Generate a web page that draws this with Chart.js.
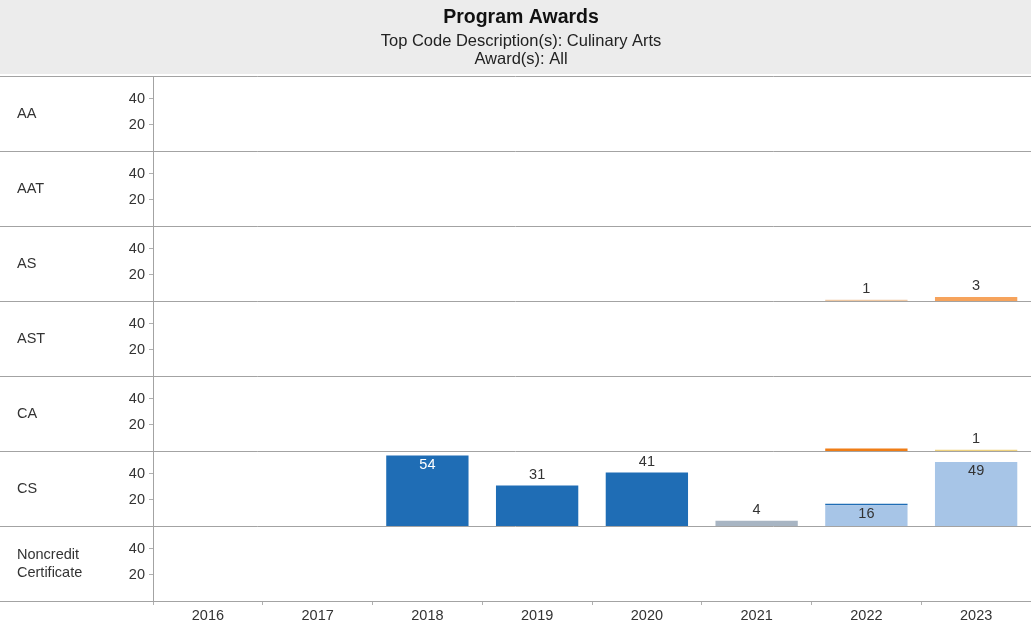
<!DOCTYPE html>
<html>
<head>
<meta charset="utf-8">
<title>Program Awards</title>
<script src="https://cdn.jsdelivr.net/npm/chart.js@4.4.1/dist/chart.umd.min.js"></script>
<style>
  body { margin: 0; background: #fff; }
  canvas { display: block; }
</style>
</head>
<body>
<canvas id="awards" width="1031" height="627"></canvas>
<script>
const years = ['2016', '2017', '2018', '2019', '2020', '2021', '2022', '2023'];
const awardTypes = ['AA', 'AAT', 'AS', 'AST', 'CA', 'CS', 'Noncredit Certificate'];
const tickValues = [20, 40];
const rowMax = 57.5; // value range of one row panel

// award counts per year, one array per colour segment
const asTan     = [null, null, null, null, null, null, 1, null];
const asOrange  = [null, null, null, null, null, null, null, 3];
const caOrange  = [null, null, null, null, null, null, 2, null];
const caYellow  = [null, null, null, null, null, null, null, 1];
const csDark    = [null, null, 54, 31, 41, null, null, null];
const csGrey    = [null, null, null, null, null, 4, null, null];
const csLight   = [null, null, null, null, null, null, 16, 49];
const csDarkTop = [null, null, null, null, null, null, 1, null];

// listed bottom to top inside each row
const segments = [
  { award: 'AS', values: asTan,     color: '#efc8a2', labels: true },
  { award: 'AS', values: asOrange,  color: '#f6a35c', labels: true },
  { award: 'CA', values: caOrange,  color: '#ef7d16', labels: false },
  { award: 'CA', values: caYellow,  color: '#efd27e', labels: true },
  { award: 'CS', values: csDark,    color: '#1f6db5', labels: true, dark: true },
  { award: 'CS', values: csGrey,    color: '#a8b5c3', labels: true },
  { award: 'CS', values: csLight,   color: '#a7c5e7', labels: true },
  { award: 'CS', values: csDarkTop, color: '#1f6db5', labels: false, dark: true },
];

// each row gets its own band of the y scale, AA at the top
const rowFloor = row => (awardTypes.length - 1 - row) * rowMax;

const stackTops = {};
const datasets = segments.map(seg => {
  const row = awardTypes.indexOf(seg.award);
  const data = seg.values.map((v, i) => {
    if (v == null) return null;
    const key = row + '-' + i;
    const lo = stackTops[key] ?? rowFloor(row);
    stackTops[key] = lo + v;
    return [lo, lo + v];
  });
  return {
    data,
    counts: seg.values,
    row,
    dark: !!seg.dark,
    showValues: seg.labels,
    backgroundColor: seg.color,
    barPercentage: 0.75,
    categoryPercentage: 1,
    grouped: false,
  };
});

const FONT = '"Liberation Sans", Arial, sans-serif';
const SMALL = 14.5;
Chart.defaults.font.family = FONT;
Chart.defaults.font.size = SMALL;
Chart.defaults.color = '#333';

// grey header band with the titles
const header = {
  id: 'header',
  beforeDraw(chart) {
    const ctx = chart.ctx;
    ctx.save();
    ctx.fillStyle = '#ececec';
    ctx.fillRect(0, 0, chart.width, 74);
    ctx.textAlign = 'center';
    ctx.textBaseline = 'middle';
    ctx.fillStyle = '#111';
    ctx.font = 'bold 19.5px ' + FONT;
    ctx.fillText('Program Awards', 521, 18);
    ctx.fillStyle = '#222';
    ctx.font = '16.5px ' + FONT;
    ctx.fillText('Top Code Description(s): Culinary Arts', 521, 41);
    ctx.fillText('Award(s): All', 521, 59);
    ctx.restore();
  }
};

// row separators and row names
const rowFrame = {
  id: 'rowFrame',
  beforeDatasetsDraw(chart) {
    const { ctx, chartArea } = chart;
    const rowH = (chartArea.bottom - chartArea.top) / awardTypes.length;
    ctx.save();
    ctx.strokeStyle = '#a3a3a3';
    ctx.lineWidth = 1;
    for (let i = 0; i <= awardTypes.length; i++) {
      const y = Math.round(chartArea.top + i * rowH) + 0.5;
      ctx.beginPath();
      ctx.moveTo(0, y);
      ctx.lineTo(chart.width, y);
      ctx.stroke();
    }
    ctx.fillStyle = '#333';
    ctx.font = SMALL + 'px ' + FONT;
    ctx.textAlign = 'left';
    ctx.textBaseline = 'middle';
    awardTypes.forEach((name, i) => {
      const mid = chartArea.top + (i + 0.5) * rowH;
      const lines = name.split(' ');
      lines.forEach((line, j) => {
        ctx.fillText(line, 17, mid + (j - (lines.length - 1) / 2) * 18);
      });
    });
    ctx.restore();
  }
};

// count labels above (or inside) each bar segment
const valueLabels = {
  id: 'valueLabels',
  afterDatasetsDraw(chart) {
    const { ctx, scales: { y } } = chart;
    ctx.save();
    ctx.font = SMALL + 'px ' + FONT;
    ctx.textAlign = 'center';
    ctx.textBaseline = 'middle';
    chart.data.datasets.forEach((ds, di) => {
      if (!ds.showValues) return;
      const meta = chart.getDatasetMeta(di);
      ds.data.forEach((d, i) => {
        if (!d) return;
        const bar = meta.data[i];
        const rowTop = y.getPixelForValue(rowFloor(ds.row) + rowMax);
        const covered = stackTops[ds.row + '-' + i] > d[1] + 1e-9;
        if (!covered && bar.y - 18 >= rowTop) {
          ctx.fillStyle = '#333';
          ctx.fillText(String(ds.counts[i]), bar.x, bar.y - 11);
        } else {
          ctx.fillStyle = ds.dark ? '#fff' : '#333';
          ctx.fillText(String(ds.counts[i]), bar.x, bar.y + 9);
        }
      });
    });
    ctx.restore();
  }
};

new Chart(document.getElementById('awards'), {
  type: 'bar',
  data: { labels: years, datasets },
  options: {
    responsive: false,
    animation: false,
    layout: { padding: { top: 76, left: 0, right: 0, bottom: 0 } },
    plugins: {
      legend: { display: false },
      tooltip: { enabled: false },
      title: { display: false },
    },
    scales: {
      x: {
        grid: { drawOnChartArea: false, tickLength: 4, color: '#b0b0b0', offset: true },
        border: { color: '#a3a3a3' },
        ticks: { padding: 2, color: '#333' },
        afterFit(scale) { scale.height = 26; },
      },
      y: {
        min: 0,
        max: awardTypes.length * rowMax,
        grid: { drawOnChartArea: false, tickLength: 4, color: '#b0b0b0' },
        border: { color: '#a3a3a3' },
        ticks: {
          padding: 4,
          color: '#333',
          callback: v => String(Math.round(v % rowMax)),
        },
        afterBuildTicks(scale) {
          const ticks = [];
          for (let r = 0; r < awardTypes.length; r++) {
            tickValues.forEach(t => ticks.push({ value: r * rowMax + t }));
          }
          scale.ticks = ticks;
        },
        afterFit(scale) { scale.width = 153; },
      },
    },
  },
  plugins: [header, rowFrame, valueLabels],
});
</script>
</body>
</html>
